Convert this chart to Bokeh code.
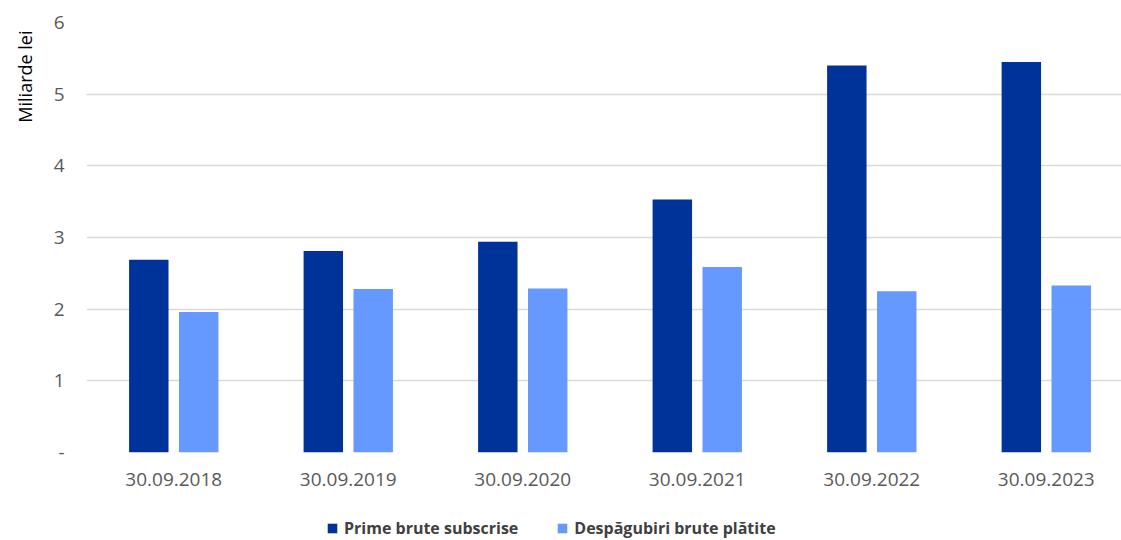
from bokeh.plotting import figure
from bokeh.layouts import column
from bokeh.models import (Range1d, FixedTicker, Legend, LegendItem, Title,
                          ColumnDataSource)
from bokeh.embed import file_html
from bokeh.resources import INLINE

# Date of each reporting period and the two series (billion lei)
categories = ["30.09.2018", "30.09.2019", "30.09.2020",
              "30.09.2021", "30.09.2022", "30.09.2023"]
prime_brute = [2.69, 2.81, 2.94, 3.53, 5.40, 5.45]
despagubiri_brute = [1.96, 2.28, 2.29, 2.59, 2.25, 2.33]
y_ticks = [0, 1, 2, 3, 4, 5, 6]
series_names = ["Prime brute subscrise", "Despăgubiri brute plătite"]

DARK = "#003399"
LIGHT = "#6699FF"
FONT = "Open Sans"

idx = list(range(len(categories)))
src = ColumnDataSource(dict(
    x_prime=[i - 0.143 for i in idx],
    x_desp=[i + 0.143 for i in idx],
    prime=prime_brute,
    desp=despagubiri_brute,
))

p = figure(width=1121, height=500, output_backend="svg", toolbar_location=None,
           x_range=Range1d(-0.5, 5.431), y_range=Range1d(0, 6),
           min_border_left=86, min_border_right=0, min_border_top=22,
           min_border_bottom=48)
p.outline_line_color = None
p.background_fill_color = "white"
p.border_fill_color = "white"

p.vbar(x="x_prime", top="prime", width=0.226, source=src,
       fill_color=DARK, line_color=None)
p.vbar(x="x_desp", top="desp", width=0.226, source=src,
       fill_color=LIGHT, line_color=None)

# Axes and grid
p.xgrid.grid_line_color = None
p.ygrid.grid_line_color = "#d9d9d9"
p.ygrid.grid_line_width = 1.3
p.ygrid.level = "underlay"

p.xaxis.ticker = FixedTicker(ticks=idx)
p.xaxis.major_label_overrides = {i: c for i, c in zip(idx, categories)}
p.xaxis.axis_line_color = None
p.xaxis.major_tick_line_color = None
p.xaxis.minor_tick_line_color = None
p.xaxis.major_label_standoff = 14
p.xaxis.major_label_text_font = FONT
p.xaxis.major_label_text_font_size = "19px"
p.xaxis.major_label_text_color = "#595959"

p.yaxis.ticker = FixedTicker(ticks=y_ticks)
p.yaxis.major_label_overrides = {0: "-"}
p.yaxis.axis_line_color = None
p.yaxis.major_tick_line_color = None
p.yaxis.minor_tick_line_color = None
p.yaxis.major_label_standoff = 16
p.yaxis.major_label_text_font = FONT
p.yaxis.major_label_text_font_size = "19px"
p.yaxis.major_label_text_color = "#595959"

# Unit title, top-aligned on the left edge
p.add_layout(Title(text="Miliarde lei", align="right", vertical_align="top",
                   offset=8, standoff=24,
                   text_font=FONT, text_font_size="18px",
                   text_font_style="normal", text_color="#000000"), "left")

# Legend strip under the chart (its frame lines up with the chart's frame)
leg = figure(width=1121, height=40, output_backend="svg", toolbar_location=None,
             x_range=Range1d(0, 1), y_range=Range1d(0, 1),
             min_border_left=86, min_border_right=0, min_border_top=0,
             min_border_bottom=0, outline_line_color=None)
leg.axis.visible = False
leg.grid.visible = False
# swatch renderers kept outside the strip's visible range
keys = ColumnDataSource(dict(x=[5], top=[0]))
k1 = leg.vbar(x="x", top="top", width=1, source=keys, fill_color=DARK, line_color=None)
k2 = leg.vbar(x="x", top="top", width=1, source=keys, fill_color=LIGHT, line_color=None)

legend = Legend(items=[LegendItem(label=series_names[0], renderers=[k1]),
                       LegendItem(label=series_names[1], renderers=[k2])],
                orientation="horizontal", location=(240, 1),
                padding=0, margin=0, spacing=38, label_standoff=6,
                glyph_width=12, glyph_height=12,
                label_text_font=FONT, label_text_font_size="16px",
                label_text_font_style="bold", label_text_color="#404040",
                border_line_color=None, background_fill_alpha=0)
leg.add_layout(legend)

open("out.html", "w").write(file_html(column(p, leg), INLINE))
